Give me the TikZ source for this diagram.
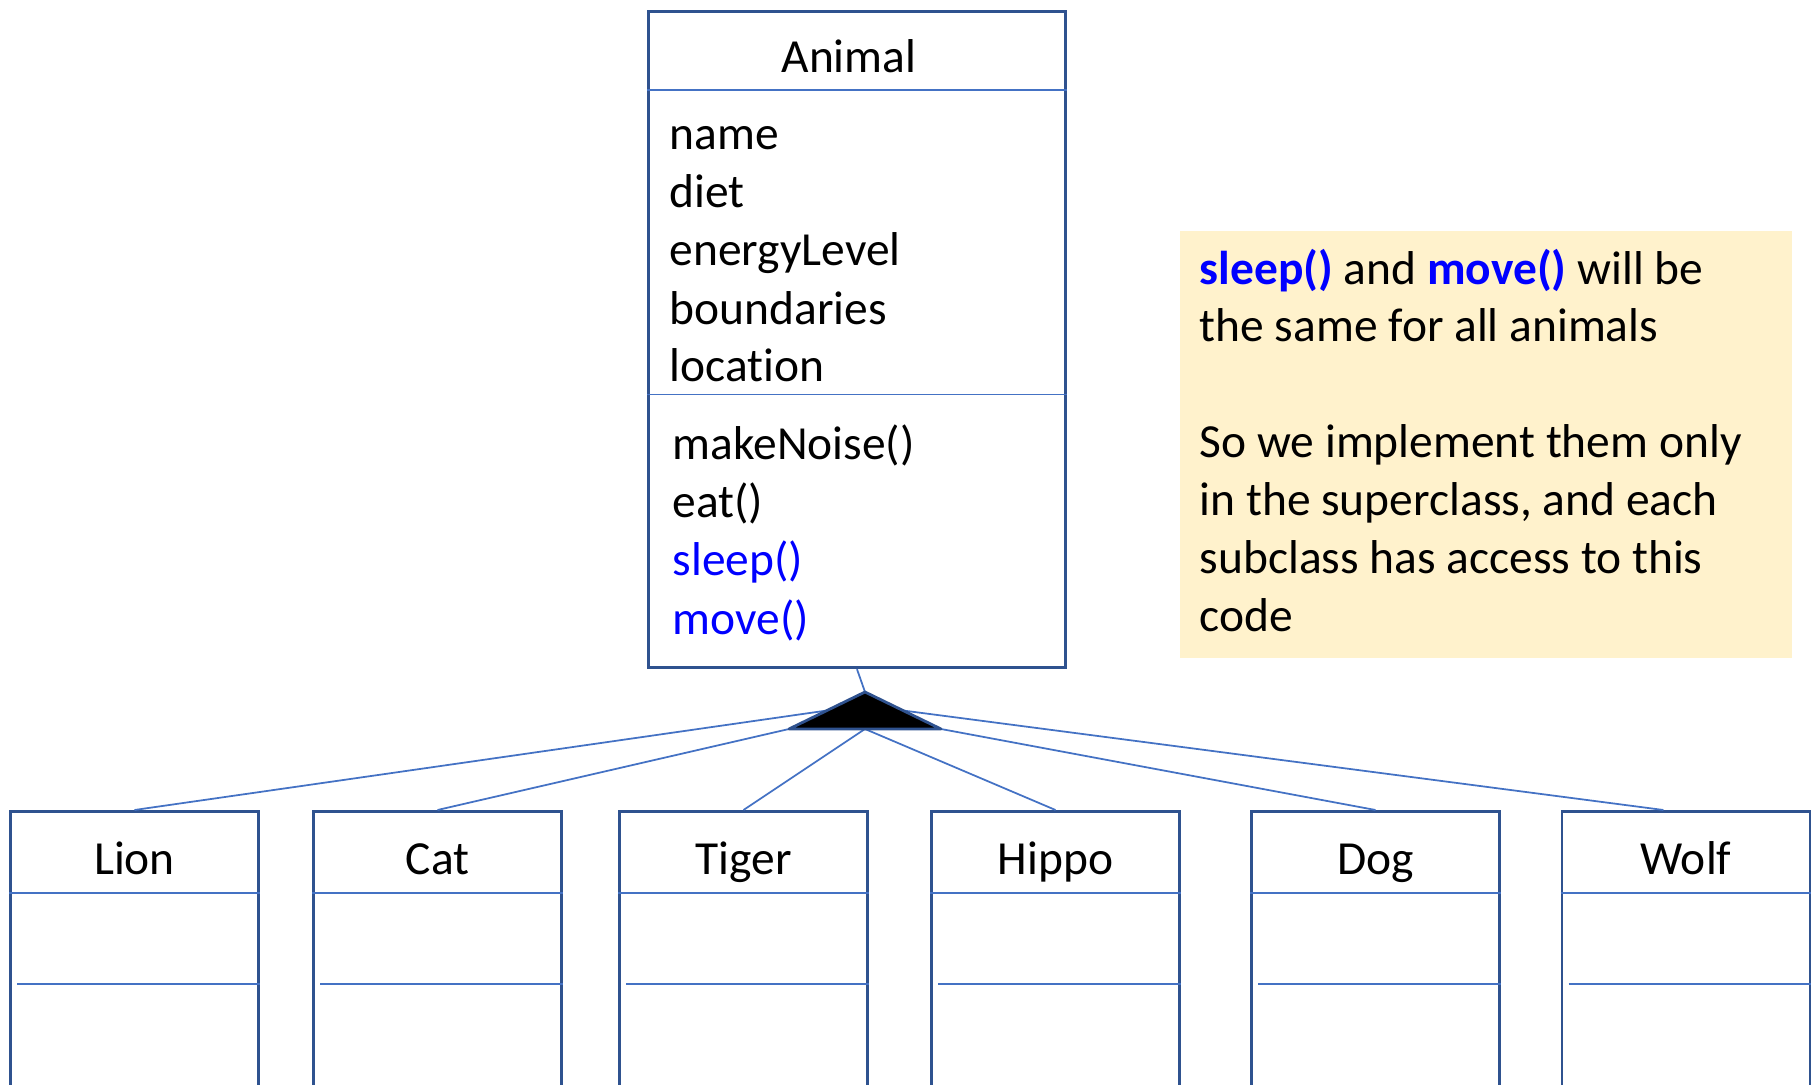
\documentclass[tikz,border=0pt]{standalone}
\usepackage{fontspec}
\setmainfont{Carlito}[Ligatures=CommonOff]
\usetikzlibrary{calc,positioning}

\definecolor{boxblue}{RGB}{47,82,143}
\definecolor{lineblue}{RGB}{68,114,196}
\definecolor{noteback}{RGB}{255,242,204}
\definecolor{methblue}{RGB}{0,0,255}

\tikzset{
  classbox/.style={draw=boxblue, line width=0.8pt, fill=white, inner sep=0pt},
  subbox/.style={classbox, minimum width=2.48cm, minimum height=3.2cm},
  divider/.style={color=lineblue, line width=0.4pt},
  link/.style={color=lineblue, line width=0.5pt},
  umltext/.style={font=\fontsize{13.5}{16.4}\selectfont, inner sep=0pt},
}

\begin{document}
\begin{tikzpicture}[x=0.01cm, y=-0.01cm]
\clip (0,0) rectangle (1820,1085);
% Superclass Animal
\node[classbox, minimum width=4.16cm, minimum height=6.56cm, anchor=north] (animal) at (857,10) {};
\draw[divider] ([yshift=-0.8cm]animal.north west) -- ([yshift=-0.8cm]animal.north east);
\draw[divider] ([yshift=-3.84cm]animal.north west) -- ([yshift=-3.84cm]animal.north east);
\node[umltext, anchor=base] (animaltitle) at (849,73) {Animal};
% attributes
\foreach \attr [count=\i from 0] in {name, diet, energyLevel, boundaries, location}
  \node[umltext, anchor=base west] (attr\i) at (669,{150+58*\i}) {\attr};
% methods
\foreach \meth/\col [count=\i from 0] in {makeNoise/black, eat/black, sleep/methblue, move/methblue}
  \node[umltext, anchor=base west, text=\col] (meth\i) at (672,{460+58*\i}) {\meth()};

% Inheritance triangle
\coordinate (apex) at (865,692);
\coordinate (tl) at (789,729);
\coordinate (tr) at (941,729);
\coordinate (bm) at (865,729);

% Subclasses
\foreach \name/\cls/\cx in {lion/Lion/134.5, cat/Cat/437.5, tiger/Tiger/743.5,
    hippo/Hippo/1055.5, dog/Dog/1375.5, wolf/Wolf/1686} {
  \node[subbox, anchor=north] (\name) at (\cx,810) {};
  \draw[divider] ([yshift=-0.83cm]\name.north west) -- ([yshift=-0.83cm]\name.north east);
  \draw[divider] ([xshift=0.08cm,yshift=-1.74cm]\name.north west) -- ([yshift=-1.74cm]\name.north east);
  \node[umltext, anchor=base] (\name title) at ([yshift=-0.64cm]\name.north) {\cls};
}

% Links
\draw[link] (animal.south) -- (apex);
\draw[link] (lion.north) -- ($(apex)!0.5!(tl)$);
\draw[link] (cat.north) -- (tl);
\draw[link] (tiger.north) -- (bm);
\draw[link] (hippo.north) -- (bm);
\draw[link] (dog.north) -- (tr);
\draw[link] ($(wolf.north west)!0.41!(wolf.north east)$) -- ($(apex)!0.5!(tr)$);
\filldraw[fill=black, draw=boxblue, line width=0.8pt, line join=round] (apex) -- (tl) -- (tr) -- cycle;

% Note (base anchor sits on the last line)
\node[fill=noteback, inner sep=0pt, minimum width=6.12cm, minimum height=4.27cm, anchor=north west] (note) at (1179,230) {};
\node[umltext, anchor=base west, align=left] (notetext) at (1199,631)
  {\textcolor{methblue}{\textbf{sleep()}} and \textcolor{methblue}{\textbf{move()}} will be\\
   the same for all animals\\[16.6pt]
   So we implement them only\\
   in the superclass, and each\\
   subclass has access to this\\
   code};
\end{tikzpicture}
\end{document}
